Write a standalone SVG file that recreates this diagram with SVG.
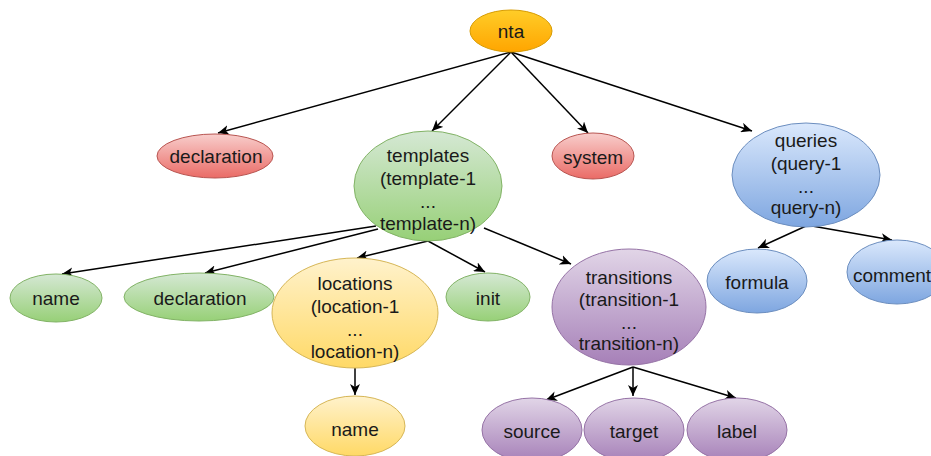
<svg xmlns="http://www.w3.org/2000/svg" width="931" height="456" viewBox="0 0 931 456">
  <defs>
    <linearGradient id="gOrange" x1="0" y1="0" x2="0" y2="1"><stop offset="0" stop-color="#ffcd28"/><stop offset="1" stop-color="#ffa500"/></linearGradient>
    <linearGradient id="gRed" x1="0" y1="0" x2="0" y2="1"><stop offset="0" stop-color="#f8cecc"/><stop offset="1" stop-color="#ea6b66"/></linearGradient>
    <linearGradient id="gGreen" x1="0" y1="0" x2="0" y2="1"><stop offset="0" stop-color="#d5e8d4"/><stop offset="1" stop-color="#97d077"/></linearGradient>
    <linearGradient id="gBlue" x1="0" y1="0" x2="0" y2="1"><stop offset="0" stop-color="#dae8fc"/><stop offset="1" stop-color="#7ea6e0"/></linearGradient>
    <linearGradient id="gPurple" x1="0" y1="0" x2="0" y2="1"><stop offset="0" stop-color="#e1d5e7"/><stop offset="1" stop-color="#a680b8"/></linearGradient>
    <linearGradient id="gYellow" x1="0" y1="0" x2="0" y2="1"><stop offset="0" stop-color="#fff2cc"/><stop offset="1" stop-color="#ffd966"/></linearGradient>
    <marker id="arrow" markerUnits="userSpaceOnUse" markerWidth="12" markerHeight="10" refX="11" refY="5" orient="auto">
      <path d="M0,0 L11,5 L0,10 L3,5 Z" fill="#000"/>
    </marker>
  </defs>
  <style>
    text { font-family: "Liberation Sans", Arial, sans-serif; font-size: 19px; fill: #1a1a1a; text-anchor: middle; }
    .edge { stroke: #000; stroke-width: 1.5; fill: none; marker-end: url(#arrow); }
    .orange { fill: url(#gOrange); stroke: #d79b00; }
    .red { fill: url(#gRed); stroke: #b85450; }
    .green { fill: url(#gGreen); stroke: #82b366; }
    .blue { fill: url(#gBlue); stroke: #6c8ebf; }
    .purple { fill: url(#gPurple); stroke: #9673a6; }
    .yellow { fill: url(#gYellow); stroke: #d6b656; }
  </style>
  <rect width="931" height="456" fill="#fff"/>

  <g id="connectors">
    <line class="edge" x1="511" y1="52" x2="218" y2="133"/>
    <line class="edge" x1="511" y1="52" x2="432" y2="131"/>
    <line class="edge" x1="511" y1="52" x2="588" y2="133"/>
    <line class="edge" x1="511" y1="52" x2="752" y2="131"/>
    <line class="edge" x1="376" y1="226" x2="62" y2="274"/>
    <line class="edge" x1="378" y1="229" x2="205" y2="273"/>
    <line class="edge" x1="428" y1="241" x2="357" y2="258"/>
    <line class="edge" x1="428" y1="241" x2="485" y2="272"/>
    <line class="edge" x1="484" y1="228" x2="571" y2="264"/>
    <line class="edge" x1="355" y1="368" x2="355" y2="395"/>
    <line class="edge" x1="633" y1="367" x2="546" y2="400"/>
    <line class="edge" x1="633" y1="367" x2="633" y2="396"/>
    <line class="edge" x1="633" y1="367" x2="736" y2="398"/>
    <line class="edge" x1="806" y1="226" x2="758" y2="248"/>
    <line class="edge" x1="812" y1="226" x2="892" y2="240"/>
  </g>

  <g id="nta"><ellipse class="orange" cx="511" cy="31" rx="41" ry="21"/><text x="511" y="38">nta</text></g>
  <g id="declaration"><ellipse class="red" cx="215" cy="156" rx="58" ry="22"/><text x="216" y="163">declaration</text></g>
  <g id="templates"><ellipse class="green" cx="428" cy="186" rx="74" ry="55"/>
    <text x="428" y="162">templates</text><text x="428" y="185">(template-1</text><text x="428" y="208">...</text><text x="428" y="230">template-n)</text></g>
  <g id="system"><ellipse class="red" cx="593" cy="156" rx="41" ry="23"/><text x="593" y="164">system</text></g>
  <g id="queries"><ellipse class="blue" cx="806" cy="175" rx="74" ry="52"/>
    <text x="806" y="147">queries</text><text x="806" y="170">(query-1</text><text x="806" y="193">...</text><text x="806" y="214">query-n)</text></g>
  <g id="formula"><ellipse class="blue" cx="757" cy="281" rx="50" ry="32"/><text x="757" y="289">formula</text></g>
  <g id="comment"><ellipse class="blue" cx="897" cy="272" rx="50" ry="32"/><text x="892" y="282">comment</text></g>
  <g id="template-name"><ellipse class="green" cx="56" cy="298" rx="46" ry="24"/><text x="56" y="305">name</text></g>
  <g id="template-declaration"><ellipse class="green" cx="199" cy="297" rx="75" ry="24"/><text x="200" y="305">declaration</text></g>
  <g id="locations"><ellipse class="yellow" cx="355" cy="313" rx="83" ry="55"/>
    <text x="355" y="290">locations</text><text x="355" y="313">(location-1</text><text x="355" y="336">...</text><text x="355" y="358">location-n)</text></g>
  <g id="init"><ellipse class="green" cx="488" cy="297" rx="42" ry="24"/><text x="488" y="305">init</text></g>
  <g id="transitions"><ellipse class="purple" cx="629" cy="307" rx="77" ry="58"/>
    <text x="629" y="284">transitions</text><text x="629" y="306">(transition-1</text><text x="629" y="329">...</text><text x="629" y="350">transition-n)</text></g>
  <g id="location-name"><ellipse class="yellow" cx="355" cy="426" rx="50" ry="30"/><text x="355" y="436">name</text></g>
  <g id="source"><ellipse class="purple" cx="532" cy="430" rx="50" ry="32"/><text x="532" y="438">source</text></g>
  <g id="target"><ellipse class="purple" cx="634" cy="430" rx="50" ry="32"/><text x="634" y="438">target</text></g>
  <g id="label"><ellipse class="purple" cx="737" cy="430" rx="50" ry="32"/><text x="737" y="438">label</text></g>
</svg>
